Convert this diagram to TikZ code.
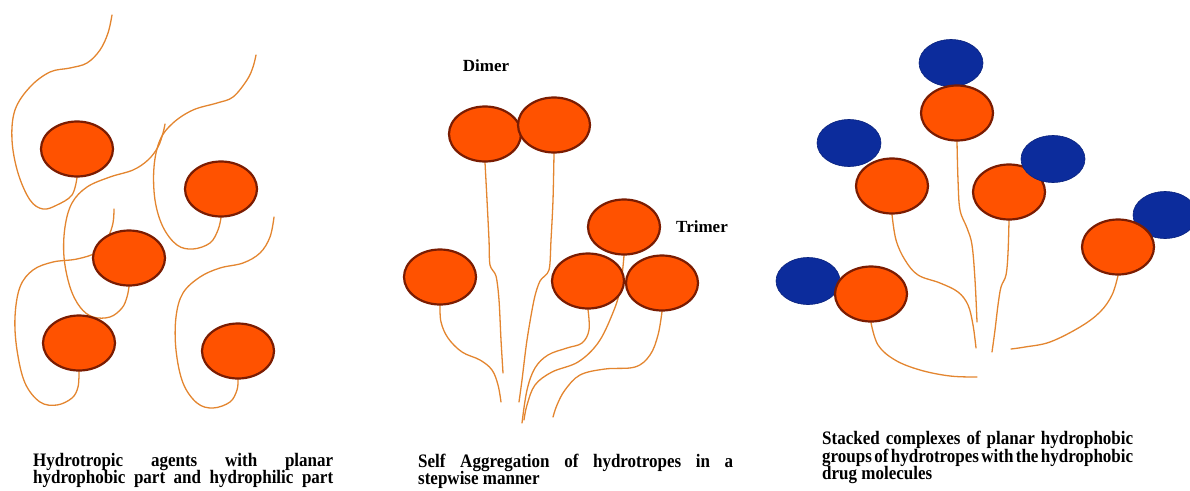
\documentclass[tikz,border=0pt]{standalone}
\usepackage{fontspec}
\setmainfont{Liberation Serif}
\usetikzlibrary{shapes.geometric}
\pgfdeclarelayer{background}
\pgfsetlayers{background,main}
\definecolor{headfill}{HTML}{FF5200}
\definecolor{headedge}{HTML}{7A1C02}
\definecolor{drugblue}{HTML}{0C2C9C}
\definecolor{tailc}{HTML}{E3852F}
% a caption line spread over the given width, spaces taking up the slack
\newcommand{\spreadline}[2]{\scalebox{1}[1.12]{\makebox[#1][s]{\spaceskip=0.5pt plus 1fill\relax #2}}}
\newcommand{\plainline}[1]{\scalebox{1}[1.12]{#1}}
\begin{document}
\begin{tikzpicture}[x=1pt,y=-1pt,
  hydro/.style={ellipse,draw=headedge,fill=headfill,line width=2.2pt,inner sep=0pt,
                minimum width=72pt,minimum height=55pt},
  drug/.style={ellipse,fill=drugblue,draw=drugblue!80!black,line width=0.6pt,inner sep=0pt,
               minimum width=64pt,minimum height=47pt},
  tail/.style={draw=tailc,line width=1.3pt,line cap=round},
  lbl/.style={font=\fontsize{17}{20}\selectfont\bfseries,inner sep=0pt},
  captext/.style={font=\fontsize{17}{20}\selectfont\bfseries,inner sep=0pt,anchor=base west}]
\useasboundingbox (0,0) rectangle (1190,490);

% ---- free hydrotropes ----
\node[hydro] (L1) at (77,149) {};
\node[hydro] (L2) at (221,189) {};
\node[hydro] (L3) at (129,258) {};
\node[hydro] (L4) at (79,343) {};
\node[hydro] (L5) at (238,351) {};
\coordinate (eL1) at (112,15);
\coordinate (eL2) at (256,55);
\coordinate (eL3) at (165,124);
\coordinate (eL4) at (114,209);
\coordinate (eL5) at (274,217);

% ---- dimer, monomer, trimer ----
\node[hydro] (D1) at (485,134) {};
\node[hydro] (D2) at (554,125) {};
\node[hydro] (S)  at (440,277) {};
\node[hydro] (T1) at (624,227) {};
\node[hydro] (T2) at (588,281) {};
\node[hydro] (T3) at (662,283) {};
\node[lbl] (dimer) at (486,66) {Dimer};
\node[lbl] (trimer) at (702,227) {Trimer};
\coordinate (eD1) at (503,373);
\coordinate (eD2) at (519,402);
\coordinate (eS)  at (501,402);
\coordinate (eT1) at (524,420);
\coordinate (eT2) at (522,423);
\coordinate (eT3) at (553,417);

% ---- stacked complexes with drug molecules ----
\node[drug] (B1) at (951,63) {};
\node[drug] (B2) at (849,143) {};
\node[drug] (B4) at (1165,215) {};
\node[drug] (B5) at (808,281) {};
\node[hydro] (R1) at (957,113) {};
\node[hydro] (R2) at (892,186) {};
\node[hydro] (R3) at (1009,192) {};
\node[hydro] (R4) at (1118,247) {};
\node[hydro] (R5) at (871,294) {};
\node[drug] (B3) at (1053,159) {};
\coordinate (eR1) at (977,322);
\coordinate (eR2) at (976,348);
\coordinate (eR3) at (992,352);
\coordinate (eR4) at (1011,349);
\coordinate (eR5) at (977,377);

% ---- hydrophilic tails, behind the heads ----
\begin{pgfonlayer}{background}
\draw[tail] plot[smooth,tension=0.6] coordinates {(L1.south) (72,195) (57,205) (43,209) (30,200)
  (18,173) (12,140) (15,110) (30,87) (50,72) (70,68) (87,63) (100,50) (108,33) (eL1)};
\draw[tail] plot[smooth,tension=0.6] coordinates {(L2.south) (218,230) (210,243) (193,249) (177,245)
  (163,227) (155,200) (154,167) (160,140) (173,123) (193,110) (217,103) (233,97) (247,80) (253,67) (eL2)};
\draw[tail] plot[smooth,tension=0.6] coordinates {(L3.south) (127,297) (122,308) (110,317) (93,317)
  (80,307) (70,287) (64,257) (65,227) (72,203) (87,187) (110,177) (133,170) (148,160) (158,147) (163,133) (eL3)};
\draw[tail] plot[smooth,tension=0.6] coordinates {(L4.south) (78,387) (72,398) (57,405) (40,402)
  (25,383) (17,350) (15,317) (20,287) (33,270) (53,262) (77,259) (97,252) (108,237) (113,223) (eL4)};
\draw[tail] plot[smooth,tension=0.6] coordinates {(L5.south) (237,390) (230,402) (213,408) (197,403)
  (183,383) (176,350) (176,317) (183,293) (200,277) (220,268) (243,263) (260,253) (270,237) (eL5)};

\draw[tail] plot[smooth,tension=0.5] coordinates {(D1.south) (487,200) (489,240) (490,265) (496,276)
  (499,300) (501,340) (eD1)};
\draw[tail] plot[smooth,tension=0.5] coordinates {(D2.south) (553,200) (551,240) (549,270) (540,281)
  (534,300) (527,340) (522,380) (eD2)};
\draw[tail] plot[smooth,tension=0.6] coordinates {(S.south) (441,322) (448,338) (462,352) (480,360)
  (492,370) (498,385) (eS)};
\draw[tail] plot[smooth,tension=0.6] coordinates {(T1.south) (620,290) (612,315) (598,343) (578,362)
  (552,372) (535,385) (527,405) (eT1)};
\draw[tail] plot[smooth,tension=0.6] coordinates {(T2.south) (589,330) (582,343) (567,348) (548,355)
  (535,368) (527,390) (eT2)};
\draw[tail] plot[smooth,tension=0.6] coordinates {(T3.south) (658,335) (650,355) (635,367) (605,369)
  (580,375) (565,390) (557,405) (eT3)};

\draw[tail] plot[smooth,tension=0.6] coordinates {(R1.south) (958,180) (960,210) (967,228) (972,245)
  (975,280) (eR1)};
\draw[tail] plot[smooth,tension=0.6] coordinates {(R2.south) (896,240) (905,260) (918,275) (940,283)
  (958,292) (968,305) (973,325) (eR2)};
\draw[tail] plot[smooth,tension=0.6] coordinates {(R3.south) (1008,253) (1006,275) (1001,287)
  (998,305) (995,330) (eR3)};
\draw[tail] plot[smooth,tension=0.6] coordinates {(R4.south) (1112,295) (1100,312) (1080,327)
  (1050,342) (1025,347) (eR4)};
\draw[tail] plot[smooth,tension=0.6] coordinates {(R5.south) (878,345) (895,360) (920,370)
  (950,376) (eR5)};
\end{pgfonlayer}

% ---- captions ----
\node[captext] (ca1) at (33,466) {\spreadline{300pt}{Hydrotropic agents with planar}};
\node[captext] (ca2) at (33,483) {\spreadline{300pt}{hydrophobic part and hydrophilic part}};
\node[captext] (cb1) at (418,467) {\spreadline{315pt}{Self Aggregation of hydrotropes in a}};
\node[captext] (cb2) at (418,484) {\plainline{stepwise manner}};
\node[captext] (cc1) at (822,444) {\spreadline{311pt}{Stacked complexes of planar hydrophobic}};
\node[captext] (cc2) at (822,462) {\spreadline{311pt}{groups of hydrotropes with the hydrophobic}};
\node[captext] (cc3) at (822,479) {\plainline{drug molecules}};
\end{tikzpicture}
\end{document}
